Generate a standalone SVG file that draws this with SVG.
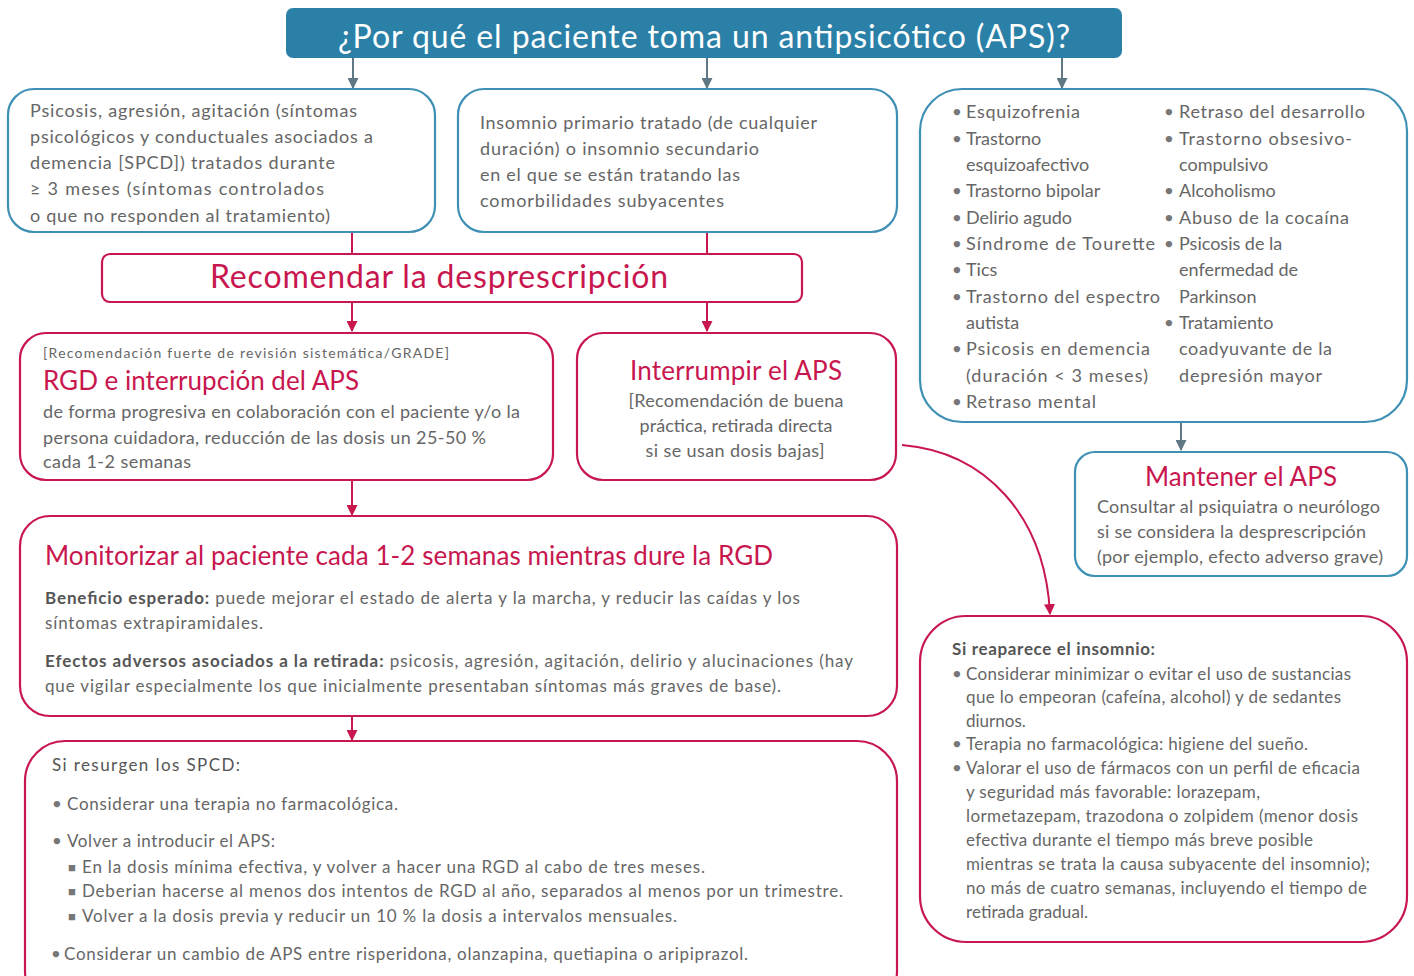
<svg xmlns="http://www.w3.org/2000/svg" width="1414" height="976" viewBox="0 0 1414 976">
<defs>
<style>
.t{font-family:Lato,"Open Sans","Liberation Sans",sans-serif;fill:#666;font-size:18px}
.s{font-size:17px}
.xs{font-size:14px}
.h{fill:#c8174f;font-size:26px}
.b{font-weight:700;fill:#555}
.bu{font-size:13px;fill:#777}
.tealbox{fill:#fff;stroke:#3f90b5;stroke-width:2.2}
.redbox{fill:#fff;stroke:#c8174f;stroke-width:2.2}
.gl{stroke:#5f7883;stroke-width:2;fill:none}
.rl{stroke:#c8174f;stroke-width:2;fill:none}
</style>
<marker id="ag" viewBox="0 0 10 10" refX="9" refY="5" markerWidth="11" markerHeight="11" markerUnits="userSpaceOnUse" orient="auto"><path d="M0,0 L10,5 L0,10 z" fill="#5f7883"/></marker>
<marker id="ar" viewBox="0 0 10 10" refX="9" refY="5" markerWidth="11" markerHeight="11" markerUnits="userSpaceOnUse" orient="auto"><path d="M0,0 L10,5 L0,10 z" fill="#c8174f"/></marker>
</defs>
<rect width="1414" height="976" fill="#fff"/>

<g id="connectors">
<path class="gl" d="M353,58 V88" marker-end="url(#ag)"/>
<path class="gl" d="M707,58 V88" marker-end="url(#ag)"/>
<path class="gl" d="M1062,58 V88" marker-end="url(#ag)"/>
<path class="rl" d="M352,232 V254"/>
<path class="rl" d="M707,232 V254"/>
<path class="rl" d="M352,302 V331" marker-end="url(#ar)"/>
<path class="rl" d="M707,302 V331" marker-end="url(#ar)"/>
<path class="rl" d="M352,480 V515" marker-end="url(#ar)"/>
<path class="rl" d="M352,716 V740" marker-end="url(#ar)"/>
<path class="gl" d="M1181,422 V450" marker-end="url(#ag)"/>
<path class="rl" d="M902,445 C985,452 1045,515 1050,614" marker-end="url(#ar)"/>
</g>

<g id="title">
<rect x="286" y="8" width="836" height="50" rx="7" fill="#2b80a8"/>
<text x="704" y="48" text-anchor="middle" style="font-family:Lato,'Open Sans','Liberation Sans',sans-serif;font-size:32px;fill:#fff" textLength="732">¿Por qué el paciente toma un antipsicótico (APS)?</text>
</g>

<g id="bpsd">
<rect class="tealbox" x="8" y="89" width="427" height="143" rx="26"/>
<text class="t" x="30" y="117" textLength="327">Psicosis, agresión, agitación (síntomas</text>
<text class="t" x="30" y="143" textLength="343">psicológicos y conductuales asociados a</text>
<text class="t" x="30" y="169" textLength="305">demencia [SPCD]) tratados durante</text>
<text class="t" x="30" y="195" textLength="294">≥ 3 meses (síntomas controlados</text>
<text class="t" x="30" y="222" textLength="300">o que no responden al tratamiento)</text>
</g>

<g id="insomnio">
<rect class="tealbox" x="458" y="89" width="439" height="143" rx="26"/>
<text class="t" x="480" y="129" textLength="337">Insomnio primario tratado (de cualquier</text>
<text class="t" x="480" y="155" textLength="279">duración) o insomnio secundario</text>
<text class="t" x="480" y="181" textLength="260">en el que se están tratando las</text>
<text class="t" x="480" y="207" textLength="244">comorbilidades subyacentes</text>
</g>

<g id="otras">
<rect class="tealbox" x="920" y="89" width="487" height="333" rx="42"/>
<g class="t">
<text class="bu" x="953" y="116">●</text><text x="966" y="118" textLength="114">Esquizofrenia</text>
<text class="bu" x="953" y="143">●</text><text x="966" y="145">Trastorno</text>
<text x="966" y="171">esquizoafectivo</text>
<text class="bu" x="953" y="195">●</text><text x="966" y="197">Trastorno bipolar</text>
<text class="bu" x="953" y="222">●</text><text x="966" y="224">Delirio agudo</text>
<text class="bu" x="953" y="248">●</text><text x="966" y="250" textLength="189">Síndrome de Tourette</text>
<text class="bu" x="953" y="274">●</text><text x="966" y="276">Tics</text>
<text class="bu" x="953" y="301">●</text><text x="966" y="303" textLength="194">Trastorno del espectro</text>
<text x="966" y="329">autista</text>
<text class="bu" x="953" y="353">●</text><text x="966" y="355" textLength="184">Psicosis en demencia</text>
<text x="966" y="382" textLength="182">(duración &lt; 3 meses)</text>
<text class="bu" x="953" y="406">●</text><text x="966" y="408" textLength="130">Retraso mental</text>
<text class="bu" x="1165" y="116">●</text><text x="1179" y="118" textLength="186">Retraso del desarrollo</text>
<text class="bu" x="1165" y="143">●</text><text x="1179" y="145" textLength="173">Trastorno obsesivo-</text>
<text x="1179" y="171">compulsivo</text>
<text class="bu" x="1165" y="195">●</text><text x="1179" y="197">Alcoholismo</text>
<text class="bu" x="1165" y="222">●</text><text x="1179" y="224" textLength="170">Abuso de la cocaína</text>
<text class="bu" x="1165" y="248">●</text><text x="1179" y="250">Psicosis de la</text>
<text x="1179" y="276">enfermedad de</text>
<text x="1179" y="303">Parkinson</text>
<text class="bu" x="1165" y="327">●</text><text x="1179" y="329">Tratamiento</text>
<text x="1179" y="355" textLength="153">coadyuvante de la</text>
<text x="1179" y="382" textLength="143">depresión mayor</text>
</g>
</g>

<g id="recomendar">
<rect class="redbox" x="102" y="254" width="700" height="48" rx="8"/>
<text class="t" x="439" y="288" text-anchor="middle" style="fill:#c8174f;font-size:32px" textLength="458">Recomendar la desprescripción</text>
</g>

<g id="rgd">
<rect class="redbox" x="20" y="333" width="533" height="147" rx="26"/>
<text class="t xs" x="43" y="358" textLength="406">[Recomendación fuerte de revisión sistemática/GRADE]</text>
<text class="t h" x="43" y="390" textLength="316">RGD e interrupción del APS</text>
<text class="t" x="43" y="418" textLength="477">de forma progresiva en colaboración con el paciente y/o la</text>
<text class="t" x="43" y="444" textLength="443">persona cuidadora, reducción de las dosis un 25-50 %</text>
<text class="t" x="43" y="468" textLength="148">cada 1-2 semanas</text>
</g>

<g id="interrumpir">
<rect class="redbox" x="577" y="333" width="319" height="147" rx="26"/>
<text class="t h" x="736" y="380" text-anchor="middle" textLength="212">Interrumpir el APS</text>
<text class="t" x="736" y="407" text-anchor="middle" textLength="215">[Recomendación de buena</text>
<text class="t" x="736" y="432" text-anchor="middle" textLength="193">práctica, retirada directa</text>
<text class="t" x="735" y="457" text-anchor="middle" textLength="179">si se usan dosis bajas]</text>
</g>

<g id="monitorizar">
<rect class="redbox" x="20" y="516" width="877" height="200" rx="30"/>
<text class="t h" x="45" y="565" textLength="728">Monitorizar al paciente cada 1-2 semanas mientras dure la RGD</text>
<text class="t s" x="45" y="604" textLength="755"><tspan class="b">Beneficio esperado:</tspan> puede mejorar el estado de alerta y la marcha, y reducir las caídas y los</text>
<text class="t s" x="45" y="629" textLength="218">síntomas extrapiramidales.</text>
<text class="t s" x="45" y="667" textLength="808"><tspan class="b">Efectos adversos asociados a la retirada:</tspan> psicosis, agresión, agitación, delirio y alucinaciones (hay</text>
<text class="t s" x="45" y="692" textLength="736">que vigilar especialmente los que inicialmente presentaban síntomas más graves de base).</text>
</g>

<g id="mantener">
<rect class="tealbox" x="1075" y="452" width="332" height="124" rx="20"/>
<text class="t h" x="1241" y="486" text-anchor="middle" textLength="192">Mantener el APS</text>
<text class="t" x="1097" y="513" textLength="283">Consultar al psiquiatra o neurólogo</text>
<text class="t" x="1097" y="538" textLength="269">si se considera la desprescripción</text>
<text class="t" x="1097" y="563" textLength="286">(por ejemplo, efecto adverso grave)</text>
</g>

<g id="spcd">
<rect class="redbox" x="25" y="741" width="872" height="270" rx="40"/>
<text class="t s" x="52" y="771" textLength="188" style="fill:#555">Si resurgen los SPCD:</text>
<text class="t bu" x="53" y="808">●</text><text class="t s" x="67" y="810" textLength="331">Considerar una terapia no farmacológica.</text>
<text class="t bu" x="53" y="845">●</text><text class="t s" x="67" y="847" textLength="208">Volver a introducir el APS:</text>
<text class="t bu" x="68" y="872">■</text><text class="t s" x="82" y="873" textLength="623">En la dosis mínima efectiva, y volver a hacer una RGD al cabo de tres meses.</text>
<text class="t bu" x="68" y="896">■</text><text class="t s" x="82" y="897" textLength="761">Deberian hacerse al menos dos intentos de RGD al año, separados al menos por un trimestre.</text>
<text class="t bu" x="68" y="921">■</text><text class="t s" x="82" y="922" textLength="595">Volver a la dosis previa y reducir un 10 % la dosis a intervalos mensuales.</text>
<text class="t bu" x="52" y="958">●</text><text class="t s" x="64" y="960" textLength="684">Considerar un cambio de APS entre risperidona, olanzapina, quetiapina o aripiprazol.</text>
</g>

<g id="reaparece">
<rect class="redbox" x="920" y="616" width="487" height="326" rx="46"/>
<g class="t s">
<text x="952" y="655" textLength="203" style="fill:#555;font-weight:700">Si reaparece el insomnio:</text>
<text class="bu" x="953" y="678">●</text><text x="966" y="680" textLength="385">Considerar minimizar o evitar el uso de sustancias</text>
<text x="966" y="703" textLength="375">que lo empeoran (cafeína, alcohol) y de sedantes</text>
<text x="966" y="727">diurnos.</text>
<text class="bu" x="953" y="748">●</text><text x="966" y="750" textLength="342">Terapia no farmacológica: higiene del sueño.</text>
<text class="bu" x="953" y="772">●</text><text x="966" y="774" textLength="394">Valorar el uso de fármacos con un perfil de eficacia</text>
<text x="966" y="798" textLength="294">y seguridad más favorable: lorazepam,</text>
<text x="966" y="822" textLength="392">lormetazepam, trazodona o zolpidem (menor dosis</text>
<text x="966" y="846" textLength="347">efectiva durante el tiempo más breve posible</text>
<text x="966" y="870" textLength="404">mientras se trata la causa subyacente del insomnio);</text>
<text x="966" y="894" textLength="401">no más de cuatro semanas, incluyendo el tiempo de</text>
<text x="966" y="918" textLength="122">retirada gradual.</text>
</g>
</g>
</svg>
